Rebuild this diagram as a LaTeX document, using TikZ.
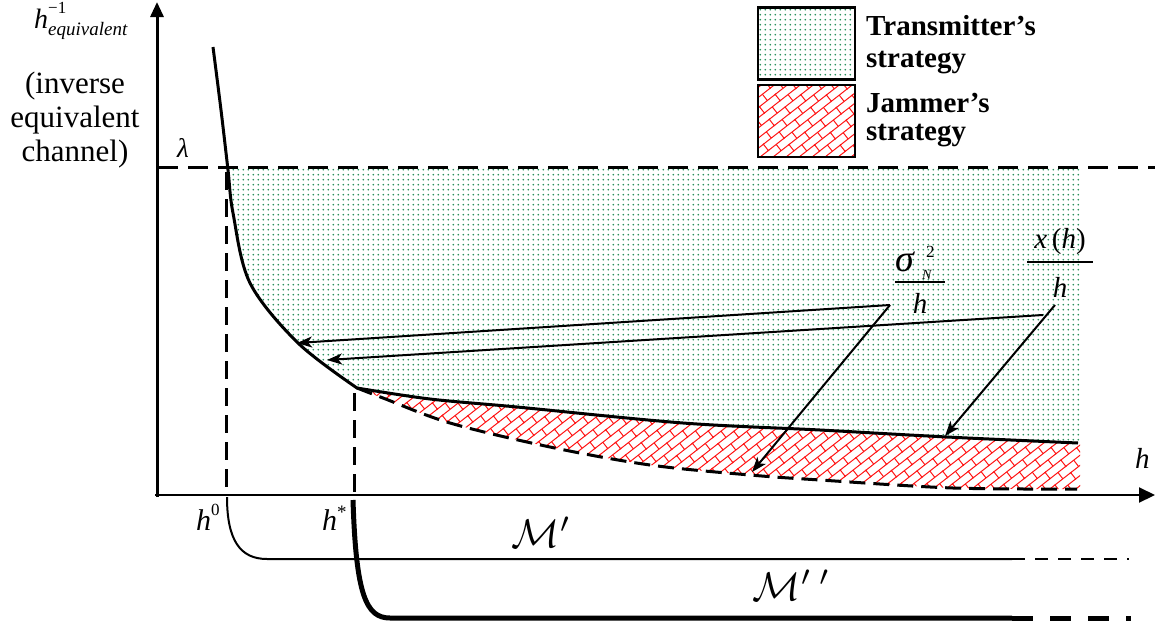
\documentclass[tikz,border=0pt]{standalone}
\usepackage{fontspec}
\setmainfont{Liberation Serif}
\usetikzlibrary{patterns.meta,arrows.meta}
\definecolor{dotgreen}{RGB}{45,145,95}
\definecolor{brickred}{RGB}{255,20,20}
\tikzdeclarepattern{
  name=greendots,
  type=uncolored,
  bottom left={(0pt,0pt)},
  top right={(4.8pt,4.8pt)},
  tile size={(4.8pt,4.8pt)},
  code={\fill (2.4pt,2.4pt) circle (0.95pt);}
}
\tikzdeclarepattern{
  name=bricks,
  type=uncolored,
  bottom left={(-1pt,-1pt)},
  top right={(21pt,17pt)},
  tile size={(20pt,16pt)},
  tile transformation={rotate=38},
  code={\draw[line width=1pt] (-1pt,0pt)--(21pt,0pt) (-1pt,8pt)--(21pt,8pt) (0pt,0pt)--(0pt,8pt) (10pt,8pt)--(10pt,16pt);}
}
\tikzset{
  mainpath/.style={insert path={plot[smooth,tension=0.55] coordinates {(213,47) (221,110) (228,170) (233,213) (250,283) (298,343) (357,388)} -- plot[smooth,tension=0.55] coordinates {(357,388) (430,399) (517,407) (683,423) (820,430) (947,437) (1078,443)}}},
  dashpath/.style={insert path={plot[smooth,tension=0.55] coordinates {(357,388) (383,398) (450,423) (550,447) (650,465) (750,475) (820,480) (953,488) (1077,489)}}},
  curvestyle/.style={line width=3pt, line join=round},
  dashcurve/.style={line width=3pt, dash pattern=on 16pt off 8pt},
  lamdash/.style={line width=3pt, dash pattern=on 20pt off 10pt},
  vdash/.style={line width=3pt, dash pattern=on 18pt off 9pt},
  pointer/.style={line width=2pt, -{Stealth[length=15pt,width=11pt,inset=4pt]}},
  legbox/.style={draw, line width=2.5pt, minimum width=97pt, minimum height=72pt, inner sep=0pt},
  legtext/.style={anchor=base west, inner sep=0pt, font=\fontsize{29}{29}\selectfont\bfseries},
  lefttext/.style={anchor=base, inner sep=0pt, font=\fontsize{31}{31}\selectfont},
  mathlbl/.style={inner sep=0pt, font=\fontsize{29}{29}\selectfont\itshape},
  scriptlbl/.style={anchor=base west, inner sep=0pt},
}
\begin{document}
\begin{tikzpicture}[x=1pt,y=-1pt]
\useasboundingbox (0,0) rectangle (1158,629);
% fills
\begin{scope}
  \clip (150,167) rectangle (1082,629);
  \fill[pattern=greendots, pattern color=dotgreen] [mainpath] -- (1082,443) -- (1082,100) -- cycle;
\end{scope}
\begin{scope}
  \clip [dashpath] -- (1080,489) -- (1080,300) -- (357,300) -- cycle;
  \fill[pattern=bricks, pattern color=brickred] [mainpath] -- (1080,443) -- (1080,629) -- (213,629) -- cycle;
\end{scope}
% curves
\draw[curvestyle] [mainpath];
\draw[dashcurve] [dashpath];
% lambda line and verticals
\coordinate (lamL) at (158,167);
\coordinate (lamR) at (1155,167);
\draw[lamdash] (lamL) -- (lamR);
\coordinate (h0top) at (226,172);
\coordinate (h0bot) at (226,495);
\draw[vdash] (h0top) -- (h0bot);
\coordinate (hstop) at (354,393);
\coordinate (hsbot) at (354,495);
\draw[vdash] (hstop) -- (hsbot);
% axes
\coordinate (O) at (157,497);
\coordinate (ytip) at (157,2);
\coordinate (xstart) at (155,495);
\coordinate (xtip) at (1155,495);
\draw[line width=3pt, -{Triangle[length=15pt,width=13pt]}] (O) -- (ytip);
\draw[line width=2pt, -{Triangle[length=16pt,width=15pt]}] (xstart) -- (xtip);
% pointers
\coordinate (s1) at (890,305);
\coordinate (x1) at (1043,315);
\coordinate (x2) at (1055,305);
\coordinate (t1) at (297,343);
\coordinate (t2) at (752,472);
\coordinate (t3) at (327,360);
\coordinate (t4) at (945,436);
\draw[pointer] (s1) -- (t1);
\draw[pointer] (s1) -- (t2);
\draw[pointer] (x1) -- (t3);
\draw[pointer] (x2) -- (t4);
% bottom brackets
\coordinate (m1s) at (227,497);
\coordinate (m1c) at (267,559);
\coordinate (m1e) at (1012,559);
\coordinate (m1d) at (1129,559);
\draw[line width=2pt] (m1s) .. controls (227,540) and (240,559) .. (m1c) -- (m1e);
\draw[line width=2pt, dash pattern=on 13pt off 10pt] (m1e) -- (m1d);
\coordinate (m2s) at (353,500);
\coordinate (m2c) at (390,618);
\coordinate (m2e) at (1012,618);
\coordinate (m2d) at (1131,618);
\draw[line width=5pt] (m2s) .. controls (356,595) and (366,618) .. (m2c) -- (m2e);
\draw[line width=5pt, dash pattern=on 21pt off 17pt] (m2e) -- (m2d);
% legend
\node[legbox, pattern=greendots, pattern color=dotgreen] (lg1) at (806.5,43.5) {};
\node[legbox, pattern=bricks, pattern color=brickred] (lg2) at (806.5,121) {};
\node[legtext] (lt1a) at (866,35) {Transmitter’s};
\node[legtext] (lt1b) at (866,67) {strategy};
\node[legtext] (lt2a) at (866,112) {Jammer’s};
\node[legtext] (lt2b) at (866,140) {strategy};
% left labels
\node[anchor=base west, inner sep=0pt] (ylab) at (34,28) {{\fontsize{28}{28}\selectfont\itshape h}\rlap{\raisebox{15pt}{\fontsize{17}{17}\selectfont −1}}\raisebox{-7pt}{\fontsize{19}{19}\selectfont\itshape equivalent}};
\node[lefttext] (lb1) at (75,93) {(inverse};
\node[lefttext] (lb2) at (75,127) {equivalent};
\node[lefttext] (lb3) at (75,161) {channel)};
\node[anchor=base west, inner sep=0pt] (lam) at (177,157) {\fontsize{27}{27}\selectfont\itshape λ};
% fraction labels
\node[scriptlbl] (signum) at (895,271) {\fontsize{38}{38}\selectfont\itshape σ};
\node[scriptlbl] (sigsup) at (926,257) {\fontsize{17}{17}\selectfont 2};
\node[scriptlbl] (sigsub) at (922,279) {\fontsize{14}{14}\selectfont\itshape N};
\draw[line width=1.3pt] (895,282) -- (945,282);
\node[mathlbl, anchor=base] (sigden) at (920,313) {h};
\node[mathlbl, anchor=base] (xnum) at (1060,248) {x\,\upshape(\itshape h\upshape)};
\draw[line width=1.3pt] (1027,262) -- (1093,262);
\node[mathlbl, anchor=base] (xden) at (1060,297) {h};
\node[mathlbl, anchor=base west] (haxis) at (1135,468) {h};
% axis tick labels
\node[anchor=base west, inner sep=0pt] (lh0) at (196,530) {{\fontsize{30}{30}\selectfont\itshape h}\raisebox{15pt}{\fontsize{17}{17}\selectfont 0}};
\node[anchor=base west, inner sep=0pt] (lhs) at (322,530) {{\fontsize{30}{30}\selectfont\itshape h}\raisebox{12pt}{\fontsize{19}{19}\selectfont *}};
\node[anchor=base west, inner sep=0pt, scale=4] (lM1) at (511,547) {$\mathcal{M}'$};
\node[anchor=base west, inner sep=0pt, scale=4] (lM2) at (752,600) {$\mathcal{M}^{\prime\;\prime}$};
\end{tikzpicture}
\end{document}
